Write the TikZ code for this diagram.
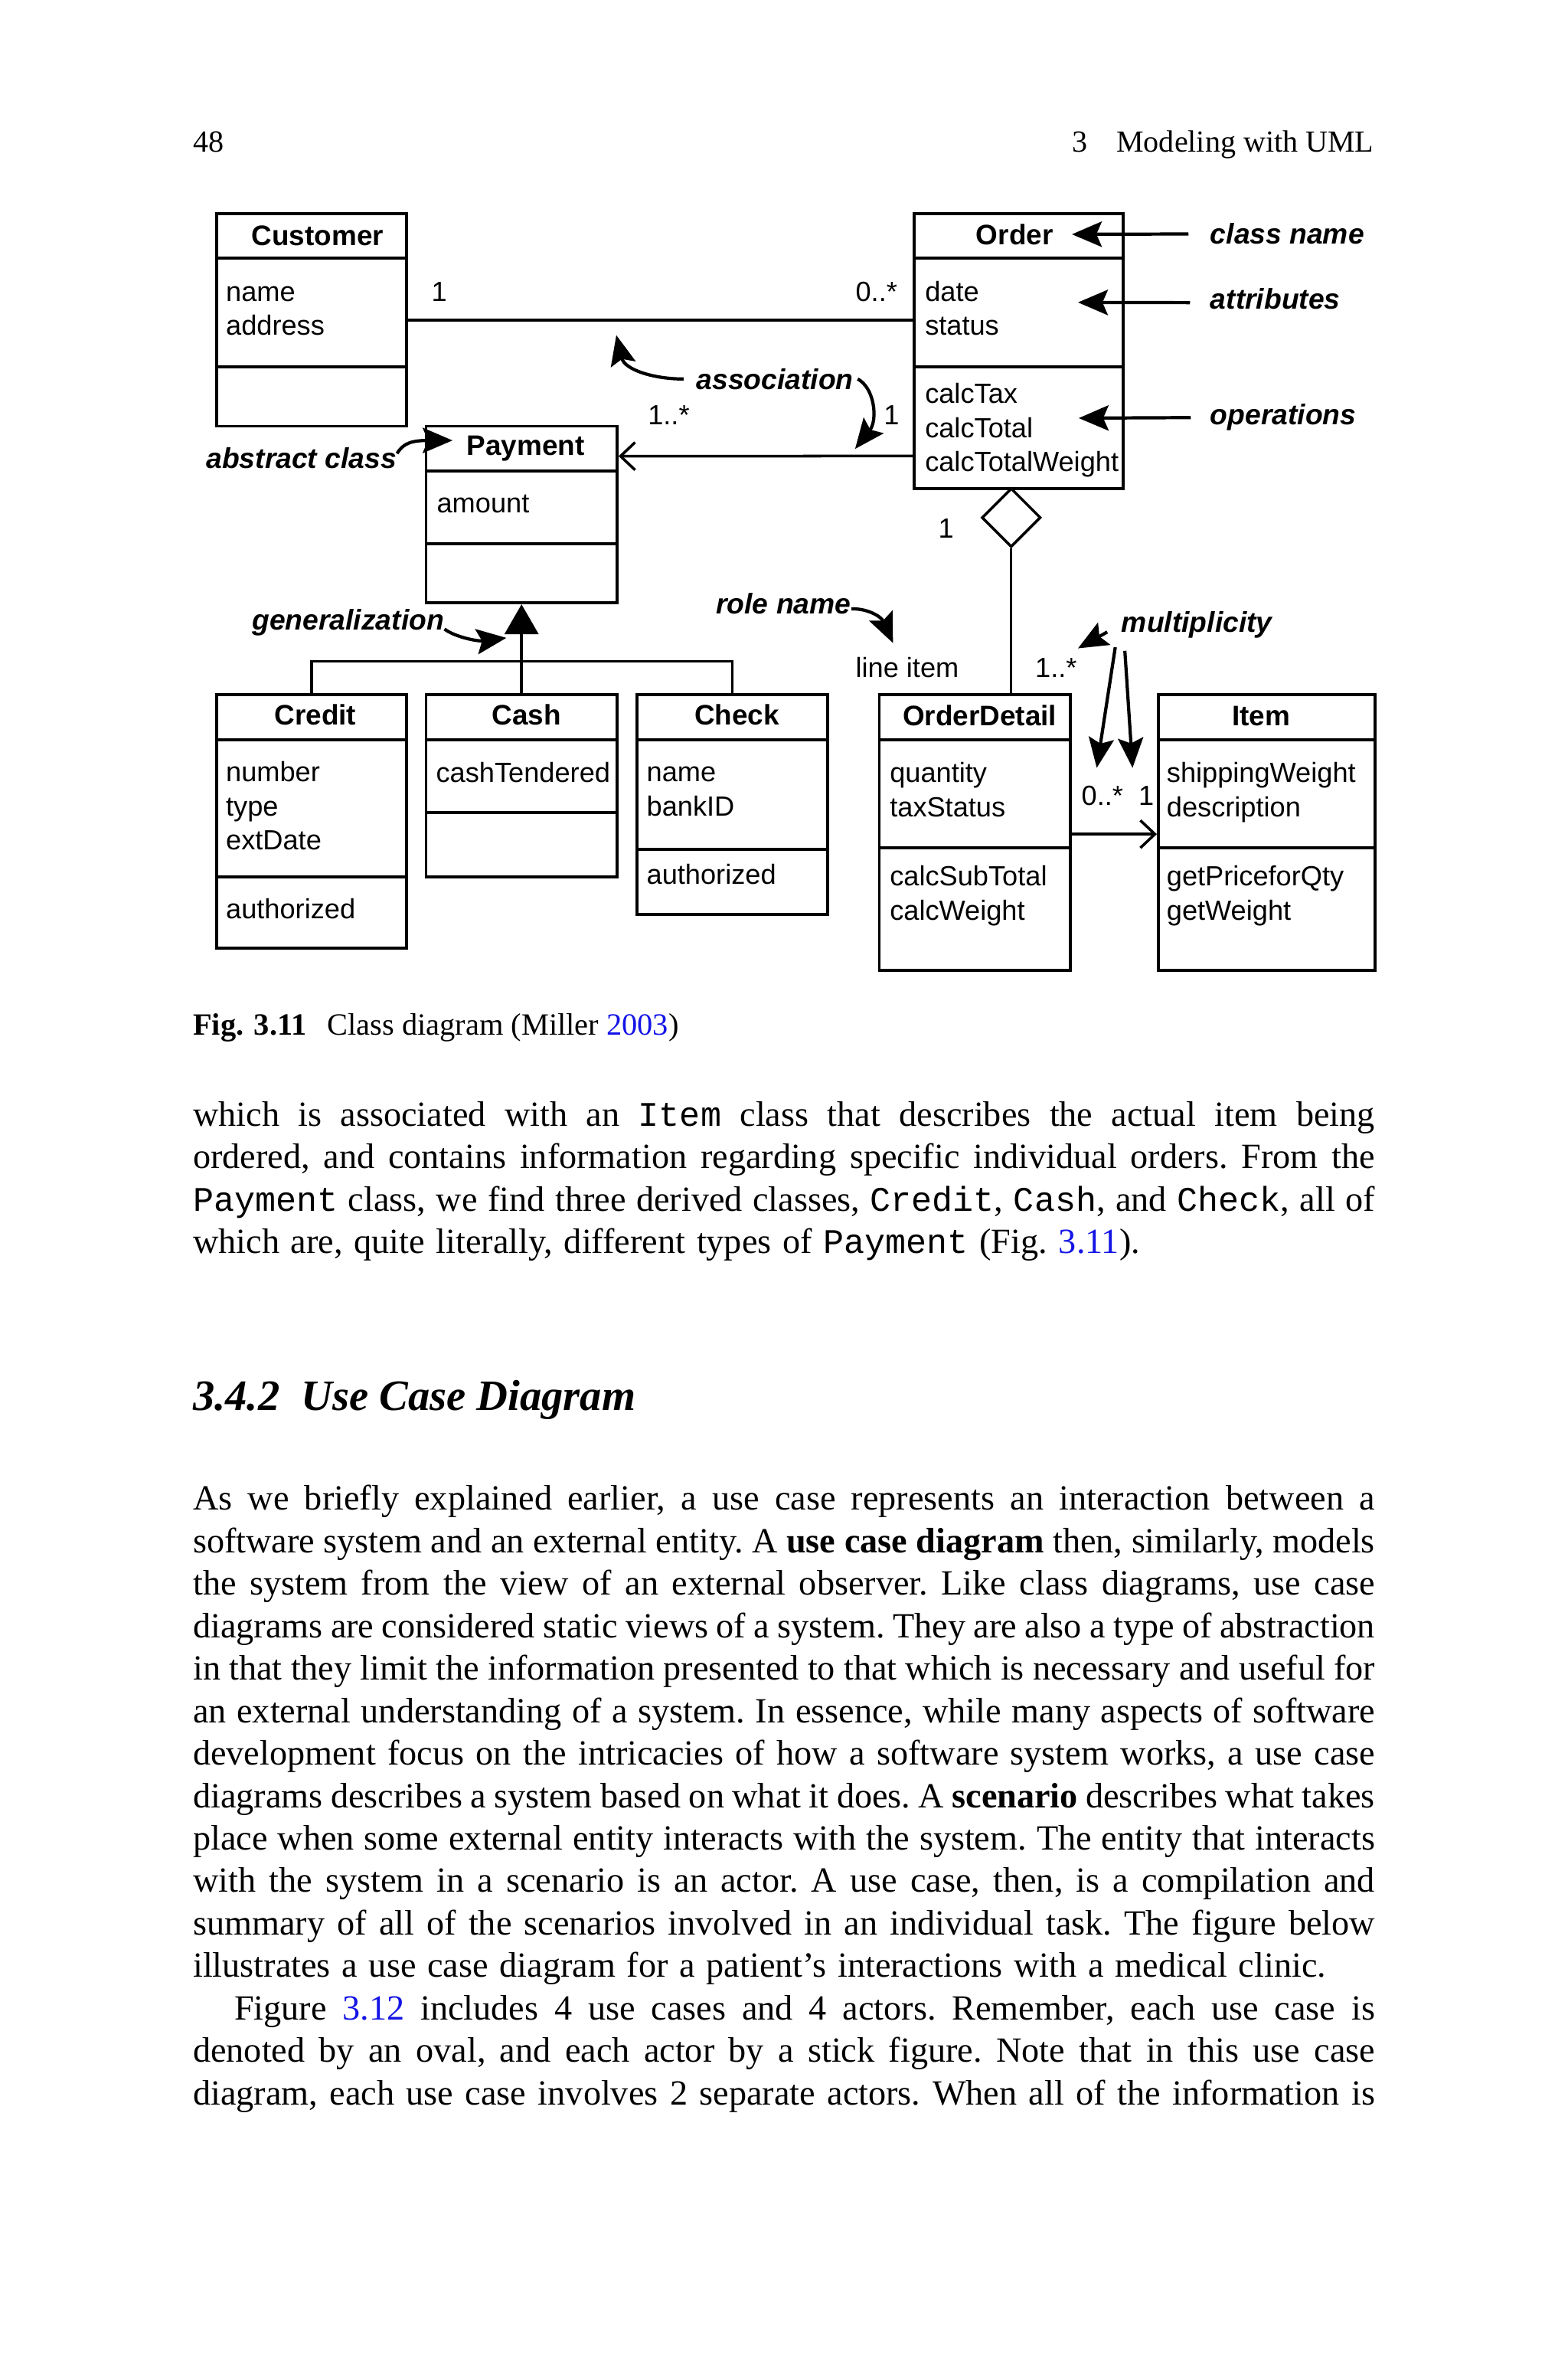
\documentclass[tikz,border=0pt]{standalone}
\usepackage{fontspec}
\setmainfont{Liberation Serif}
\setsansfont{Liberation Sans}
\setmonofont[Scale=0.975]{Liberation Mono}
\usetikzlibrary{arrows.meta,positioning,fit,shapes.geometric}
\definecolor{refblue}{RGB}{20,20,230}
\newlength\bodyw
\setlength\bodyw{15.44cm}
\newcommand\fullline[1]{\makebox[\bodyw][s]{\strut#1}}
\newcommand\bodyspacing{\frenchspacing\spaceskip=0.32em plus 0.2em minus 0.2em\relax}

\begin{document}
\begin{tikzpicture}[
    x=0.019807cm, y=-0.019807cm,
    cbox/.style={draw, line width=1.1pt, inner sep=0pt},
    ctitle/.style={font=\sffamily\bfseries\fontsize{10.5}{12}\selectfont, anchor=base, inner sep=0pt},
    cattr/.style={font=\sffamily\fontsize{10.3}{12}\selectfont, anchor=base west, inner sep=0pt},
    mult/.style={font=\sffamily\fontsize{10.3}{12}\selectfont, inner sep=0pt},
    notelbl/.style={font=\sffamily\bfseries\itshape\fontsize{10.6}{12}\selectfont, anchor=base west, inner sep=0pt},
    assoc/.style={line width=1pt},
    note/.style={line width=1.2pt, -{Stealth[length=0.39cm, width=0.33cm, inset=0.07cm]}},
    navig/.style={-{Straight Barb[length=0.19cm, width=0.36cm]}},
    agg/.style={draw, diamond, line width=1pt, fill=white, inner sep=0pt, minimum width=0.77cm, minimum height=0.77cm},
    pagetxt/.style={inner sep=0pt, anchor=base west},
    body/.style={font=\fontsize{13.15}{15.78}\selectfont, anchor=north west, inner sep=0pt, text width=15.44cm, align=left}
]
\fill[white] (0,0) rectangle (1034,1568);
\useasboundingbox (0,0) rectangle (1034,1568);

% running head
\node[pagetxt, font=\fontsize{11.4}{13}\selectfont] (pnum) at (127,100.1) {48};
\node[pagetxt, anchor=base east, font=\fontsize{11.4}{13}\selectfont] (rhead) at (906.5,100.1) {3\hspace{10.9pt}Modeling with UML};

% class boxes
\node[cbox, fit={(143,141) (268,170)}] (cust) {};
\node[cbox, fit={(143,170) (268,242)}] (cust-a) {};
\node[cbox, fit={(143,242) (268,281)}] (cust-o) {};
\node[cbox, fit={(603,141) (741,170)}] (order) {};
\node[cbox, fit={(603,170) (741,242)}] (order-a) {};
\node[cbox, fit={(603,242) (741,322)}] (order-o) {};
\node[cbox, fit={(281,281) (407,310.5)}] (pay) {};
\node[cbox, fit={(281,310.5) (407,358.5)}] (pay-a) {};
\node[cbox, fit={(281,358.5) (407,397.5)}] (pay-o) {};
\node[cbox, fit={(143,458) (268,488)}] (credit) {};
\node[cbox, fit={(143,488) (268,578)}] (credit-a) {};
\node[cbox, fit={(143,578) (268,625)}] (credit-o) {};
\node[cbox, fit={(281,458) (407,488)}] (cash) {};
\node[cbox, fit={(281,488) (407,536)}] (cash-a) {};
\node[cbox, fit={(281,536) (407,578)}] (cash-o) {};
\node[cbox, fit={(420,458) (546,488)}] (check) {};
\node[cbox, fit={(420,488) (546,560)}] (check-a) {};
\node[cbox, fit={(420,560) (546,603)}] (check-o) {};
\node[cbox, fit={(580,458) (706,488)}] (odet) {};
\node[cbox, fit={(580,488) (706,559)}] (odet-a) {};
\node[cbox, fit={(580,559) (706,640)}] (odet-o) {};
\node[cbox, fit={(764,458) (907,488)}] (item) {};
\node[cbox, fit={(764,488) (907,559)}] (item-a) {};
\node[cbox, fit={(764,559) (907,640)}] (item-o) {};

% class texts
\node[ctitle] (cust-t) at (209.5,161.6) {Customer};
\node[cattr] (cust-name) at (148.7,198.5) {name};
\node[cattr] (cust-addr) at (148.7,221) {address};
\node[ctitle] (order-t) at (669.2,161.2) {Order};
\node[cattr] (order-date) at (609.8,198.5) {date};
\node[cattr] (order-status) at (609.8,221) {status};
\node[cattr] (order-tax) at (609.8,265.9) {calcTax};
\node[cattr] (order-total) at (609.8,288.4) {calcTotal};
\node[cattr] (order-weight) at (609.8,310.9) {calcTotalWeight};
\node[ctitle] (pay-t) at (346.7,300.4) {Payment};
\node[cattr] (pay-amount) at (287.8,338.3) {amount};
\node[ctitle] (credit-t) at (208,478) {Credit};
\node[cattr] (credit-num) at (148.7,515.5) {number};
\node[cattr] (credit-type) at (148.7,538) {type};
\node[cattr] (credit-ext) at (148.7,560.5) {extDate};
\node[cattr] (credit-auth) at (148.7,605.8) {authorized};
\node[ctitle] (cash-t) at (347.3,478) {Cash};
\node[cattr] (cash-tend) at (287.3,515.8) {cashTendered};
\node[ctitle] (check-t) at (486,478) {Check};
\node[cattr] (check-name) at (426.2,515.5) {name};
\node[cattr] (check-bank) at (426.2,538) {bankID};
\node[cattr] (check-auth) at (426.2,583) {authorized};
\node[ctitle] (odet-t) at (646.2,478.6) {OrderDetail};
\node[cattr] (odet-qty) at (586.6,515.9) {quantity};
\node[cattr] (odet-tax) at (586.6,538.4) {taxStatus};
\node[cattr] (odet-sub) at (586.6,584.1) {calcSubTotal};
\node[cattr] (odet-wt) at (586.6,606.6) {calcWeight};
\node[ctitle] (item-t) at (831.7,478.6) {Item};
\node[cattr] (item-ship) at (769.2,515.9) {shippingWeight};
\node[cattr] (item-desc) at (769.2,538.4) {description};
\node[cattr] (item-price) at (769.2,584.1) {getPriceforQty};
\node[cattr] (item-wt) at (769.2,606.6) {getWeight};

% relations
\draw[assoc] ([yshift=-0.1cm]cust-a.east) -- ([yshift=-0.1cm]order-a.west);
\draw[assoc, navig] ([yshift=-0.37cm]order-o.west) -- ([yshift=-0.1cm]pay.east);
\draw[assoc, -{Triangle[length=0.39cm, width=0.44cm]}] (cash.north) -- (pay-o.south);
\coordinate (gbar) at (344,436);
\draw[assoc] (credit.north) |- (gbar) -| (check.north);
\node[agg] (agg) at (667,341.3) {};
\draw[assoc, line width=0.9pt] (agg.south) -- (agg.south |- odet.north);
\draw[assoc, navig] ([yshift=-0.525cm]odet-a.east) -- ([yshift=-0.525cm]item-a.west);

% multiplicities and role name
\node[mult, anchor=base] (m-cust) at (289.7,198.5) {1};
\node[mult, anchor=base west] (m-order) at (564,198.6) {0..*};
\node[mult, anchor=base west] (m-pay) at (427,280.2) {1..*};
\node[mult, anchor=base] (m-ordpay) at (588,280.2) {1};
\node[mult, anchor=base] (m-agg) at (624,355) {1};
\node[mult, anchor=base west] (role) at (564,446.7) {line item};
\node[mult, anchor=base west] (m-odet) at (682.5,446.7) {1..*};
\node[mult, anchor=base west] (m-many) at (713,530.8) {0..*};
\node[mult, anchor=base] (m-item) at (756,530.8) {1};

% annotations
\node[notelbl] (lbl-cn) at (798,161) {class name};
\node[notelbl] (lbl-at) at (798,204) {attributes};
\node[notelbl] (lbl-op) at (798,280.2) {operations};
\node[notelbl] (lbl-as) at (459,256.6) {association};
\node[notelbl] (lbl-ab) at (135.7,308.8) {abstract class};
\node[notelbl] (lbl-ge) at (166,415.6) {generalization};
\node[notelbl] (lbl-rn) at (472,404.7) {role name};
\node[notelbl] (lbl-mu) at (739.4,416.8) {multiplicity};

\coordinate (cn-tip) at (707,154.5);
\coordinate (at-tip) at (711,199.4);
\coordinate (op-tip) at (711.5,275.7);
\coordinate (as-tip1) at (406.5,221);
\coordinate (as-tip2) at (564,296);
\coordinate (ab-tip) at (298.5,290.4);
\coordinate (ge-tip) at (334,420.6);
\coordinate (rn-tip) at (589,424);
\coordinate (mu-t1) at (711,427.5);
\coordinate (mu-t2) at (723.4,506.3);
\coordinate (mu-t3) at (747,506.3);

\draw[note] ([xshift=-0.28cm]lbl-cn.west) -- (cn-tip);
\draw[note] ([xshift=-0.26cm, yshift=-0.045cm]lbl-at.west) -- (at-tip);
\draw[note] ([xshift=-0.25cm]lbl-op.west) -- (op-tip);
\draw[note] ([xshift=-0.16cm]lbl-as.west) .. controls (432,250) and (412,244) .. (as-tip1);
\draw[note] ([xshift=0.05cm]lbl-as.east) .. controls (577,256) and (579,277) .. (as-tip2);
\draw[note] ([yshift=0.06cm]lbl-ab.east) .. controls (266,292) and (272,290.4) .. (ab-tip);
\draw[note] ([yshift=-0.08cm]lbl-ge.east) .. controls (300,420) and (315,423) .. (ge-tip);
\draw[note] ([yshift=-0.07cm]lbl-rn.east) .. controls (571,401) and (581,406) .. (rn-tip);
\draw[note] ([shift={(-0.18cm,-0.095cm)}]lbl-mu.west) -- (mu-t1);
\draw[note] ([shift={(-0.075cm,-0.113cm)}]lbl-mu.south west) -- (mu-t2);
\draw[note] ([shift={(0.05cm,-0.16cm)}]lbl-mu.south west) -- (mu-t3);

% caption
\node[pagetxt, font=\fontsize{11.5}{13}\selectfont] (cap) at (127,682.4)
    {\textbf{Fig. 3.11}\hspace{7.7pt}Class diagram (Miller \textcolor{refblue}{2003})};

% body text
\node[body] (para1) at (127,722.6) {\bodyspacing\noindent
\fullline{which is associated with an \texttt{Item} class that describes the actual item being}\\
\fullline{ordered, and contains information regarding specific individual orders. From the}\\
\fullline{\texttt{Payment} class, we find three derived classes, \texttt{Credit}, \texttt{Cash}, and \texttt{Check}, all of}\\
\strut which are, quite literally, different types of \texttt{Payment} (Fig.~\textcolor{refblue}{3.11}).};

\node[pagetxt, font=\bfseries\itshape\fontsize{16.1}{19}\selectfont] (sec) at (127,929.8)
    {3.4.2\hspace{8pt}Use Case Diagram};

\node[body] (para2) at (127,975.8) {\bodyspacing\noindent
\fullline{As we briefly explained earlier, a use case represents an interaction between a}\\
\fullline{software system and an external entity. A \textbf{use case diagram} then, similarly, models}\\
\fullline{the system from the view of an external observer. Like class diagrams, use case}\\
\fullline{diagrams are considered static views of a system. They are also a type of abstraction}\\
\fullline{in that they limit the information presented to that which is necessary and useful for}\\
\fullline{an external understanding of a system. In essence, while many aspects of software}\\
\fullline{development focus on the intricacies of how a software system works, a use case}\\
\fullline{diagrams describes a system based on what it does. A \textbf{scenario} describes what takes}\\
\fullline{place when some external entity interacts with the system. The entity that interacts}\\
\fullline{with the system in a scenario is an actor. A use case, then, is a compilation and}\\
\fullline{summary of all of the scenarios involved in an individual task. The figure below}\\
\strut illustrates a use case diagram for a patient’s interactions with a medical clinic.\\
\hspace*{0.54cm}\makebox[\dimexpr\bodyw-0.54cm\relax][s]{\strut Figure \textcolor{refblue}{3.12} includes 4 use cases and 4 actors. Remember, each use case is}\\
\fullline{denoted by an oval, and each actor by a stick figure. Note that in this use case}\\
\fullline{diagram, each use case involves 2 separate actors. When all of the information is}};
\end{tikzpicture}
\end{document}
